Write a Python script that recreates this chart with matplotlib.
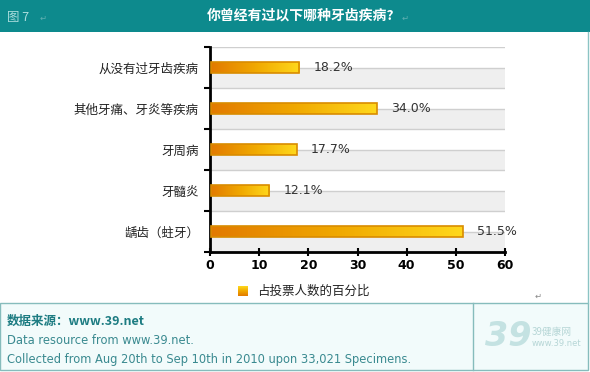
import numpy as np
import matplotlib
matplotlib.use("Agg")
import matplotlib.pyplot as plt
from matplotlib.colors import LinearSegmentedColormap
from matplotlib.patches import Rectangle

plt.rcParams['font.family'] = ['Noto Sans CJK SC', 'DejaVu Sans']

# data
categories = ['从没有过牙齿疾病', '其他牙痛、牙炎等疾病', '牙周病', '牙髓炎', '龋齿（蛀牙）']
values = [18.2, 34.0, 17.7, 12.1, 51.5]
value_labels = ['18.2%', '34.0%', '17.7%', '12.1%', '51.5%']
xticks = [0, 10, 20, 30, 40, 50, 60]
title = '你曾经有过以下哪种牙齿疾病?'
legend_label = '占投票人数的百分比'
source_lines = ['Data resource from www.39.net. ',
                'Collected from Aug 20th to Sep 10th in 2010 upon 33,021 Specimens.']

teal = '#0d8a8d'
grad = LinearSegmentedColormap.from_list('bar', ['#e27a00', '#f0a800', '#ffd81c'])
gimg = np.linspace(0, 1, 256).reshape(1, -1)

fig = plt.figure(figsize=(5.9, 3.72), dpi=100)
W, H = 590, 372

def px(x, y):
    return x / W, 1 - y / H

# header bar
fig.patches.append(Rectangle((0, 1 - 32 / H), 1, 32 / H, transform=fig.transFigure,
                             facecolor=teal, edgecolor='none', zorder=0))
fig.text(*px(7, 17), '图 7', color='#a9dcdc', fontsize=9, va='center', ha='left')
fig.text(*px(40, 18), '↵', color='#5fb0b2', fontsize=6, va='center', ha='left')
fig.text(*px(301, 16), title, color='white', fontsize=10, fontweight='bold',
         va='center', ha='center')
fig.text(*px(402, 18), '↵', color='#5fb0b2', fontsize=6, va='center', ha='left')

# right border line
fig.add_artist(plt.Line2D([587.5 / W, 587.5 / W], [1 - 32 / H, 1 - 303 / H],
                          transform=fig.transFigure, color='#8cc4c4', lw=1))

# bottom info box
fig.patches.append(Rectangle(px(0, 370), 587.5 / W, 67 / H, transform=fig.transFigure,
                             facecolor='#f2fbfb', edgecolor='#86bcbc', lw=1, zorder=0))
fig.add_artist(plt.Line2D([473.5 / W, 473.5 / W], [1 - 303 / H, 1 - 370 / H],
                          transform=fig.transFigure, color='#86bcbc', lw=1))
fig.text(*px(7, 321), '数据来源：www.39.net', color='#1d7c82', fontsize=9,
         fontweight='bold', va='center', ha='left')
fig.text(*px(7, 341), source_lines[0], color='#3a8a90', fontsize=8.3,
         family='DejaVu Sans', va='center', ha='left')
fig.text(*px(7, 359), source_lines[1], color='#3a8a90', fontsize=8.3,
         family='DejaVu Sans', va='center', ha='left')
fig.text(*px(485, 337), '39', color='#c4e2e2', fontsize=24, fontweight='bold',
         fontstyle='italic', family='DejaVu Sans', va='center', ha='left')
fig.text(*px(532, 332), '39健康网', color='#b6d6d6', fontsize=7, va='center', ha='left')
fig.text(*px(532, 344), 'www.39.net', color='#b6d6d6', fontsize=6,
         family='DejaVu Sans', va='center', ha='left')

# chart
ax = fig.add_axes([210 / W, 1 - 252 / H, 295 / W, 205 / H])
n = len(categories)
ypos = np.arange(n)
ax.set_xlim(0, 60)
ax.set_ylim(n - 0.5, -0.5)

for i in ypos:
    ax.axhspan(i, i + 0.5, color='#efefef', lw=0, zorder=0)
for yy in np.arange(-0.5, n, 0.5):
    ax.axhline(yy, color='#cfcfcf', lw=1, zorder=1)

bh = 0.25
for i, v in enumerate(values):
    rect = Rectangle((0.3, i - bh / 2), v - 0.3, bh, facecolor='none',
                     edgecolor='#d98c00', lw=1.2, zorder=4)
    ax.add_patch(rect)
    im = ax.imshow(gimg, cmap=grad, aspect='auto', zorder=3,
                   extent=(0.3, v, i + bh / 2, i - bh / 2))
    im.set_clip_path(rect)
    ax.annotate(value_labels[i], (v, i), xytext=(10, 0), textcoords='offset points',
                va='center', ha='left', fontsize=9, color='#333333',
                family='DejaVu Sans', zorder=5)

ax.set_xlim(0, 60)
ax.set_ylim(n - 0.5, -0.5)
ax.set_xticks(xticks)
ax.set_xticklabels([str(t) for t in xticks], fontweight='bold', fontsize=9,
                   family='DejaVu Sans')
ax.set_yticks(np.arange(-0.5, n, 1))
ax.set_yticklabels([])
ax.set_yticks(ypos, minor=True)
ax.set_yticklabels(categories, minor=True, fontsize=9, color='#222222')
ax.tick_params(axis='y', which='minor', length=0, pad=8)
ax.tick_params(axis='y', which='major', direction='out', length=4, width=1.5)
ax.tick_params(axis='x', direction='inout', length=6, width=1.5, pad=2)
for s in ['top', 'right']:
    ax.spines[s].set_visible(False)
for s in ['left', 'bottom']:
    ax.spines[s].set_linewidth(2)
ax.set_facecolor('white')

# legend
lax = fig.add_axes([238 / W, 1 - 296 / H, 10 / W, 10 / H])
lax.imshow(np.linspace(0, 1, 32).reshape(-1, 1), cmap=grad.reversed(), aspect='auto')
lax.axis('off')
fig.text(*px(257, 291), legend_label, fontsize=9, color='#222222', va='center', ha='left')
fig.text(*px(535, 296), '↵', color='#888888', fontsize=6, va='center', ha='left')

fig.savefig('out.png', dpi=100)
